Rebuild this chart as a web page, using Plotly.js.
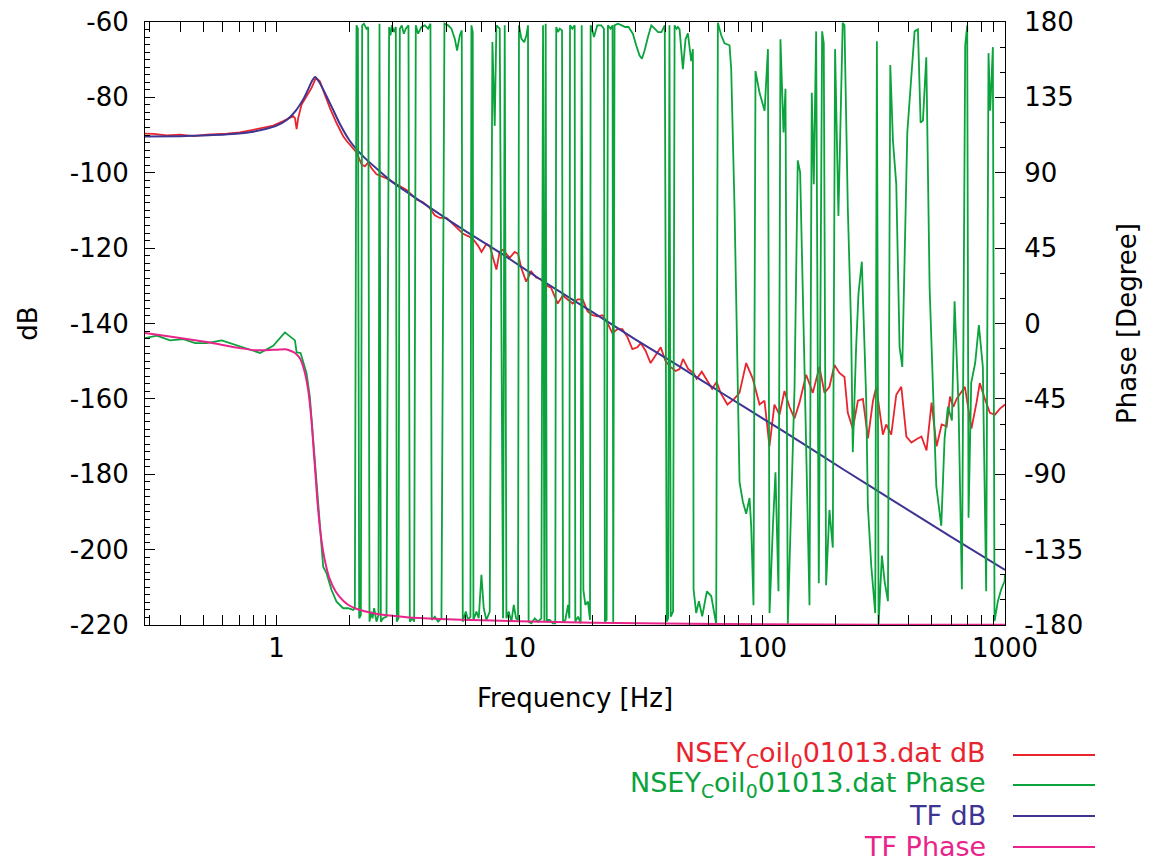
<!DOCTYPE html>
<html><head><meta charset="utf-8">
<script src="https://cdn.plot.ly/plotly-3.0.1.min.js"></script>
<style>html,body{margin:0;padding:0;background:#fff;} #chart{width:1149px;height:862px;}</style>
</head><body><div id="chart"></div>
<script>
// ---- measured magnitude (dB) ----
const redFreq = [0.287,0.311,0.353,0.400,0.454,0.515,0.623,0.706,0.801,0.881,0.968,1.065,1.170,1.190,1.209,1.227,1.267,1.328,1.393,1.451,1.507,1.580,1.657,1.765,1.880,
1.94,2.035,2.134,2.238,2.31,2.38,2.46,2.58,2.66,2.84,3.02,3.22,3.43,3.54,3.77,4.01,4.27,4.48,4.70,5.01,5.33,5.68,5.86,6.24,6.44,6.76,6.98,7.31,7.55,7.79,8.04,8.29,8.56,
8.70,9.12,9.56,9.87,10.17,10.66,11.18,11.72,12.29,12.88,13.5,14.38,15.08,15.8,16.57,17.37,18.21,19.09,20.0,20.98,22.0,23.06,24.17,25.34,26.56,27.85,29.19,30.6,31.6,33.1,34.7,36.4,38.2,40.0,41.9,44.0,
45.67,47.2,49.6,52.1,53.7,56.4,59.2,62.2,64.9,67.4,71.9,76.7,80.6,85.9,91.5,97.5,102.2,107.1,112.3,117.8,123.5,129.5,135.8,142.4,151.7,161.6,172.1,180.5,189.2,198.4,208.0,
218.2,225.2,236.2,247.8,259.9,272.6,286.0,295.1,314.1,324.1,340.0,356.6,374.1,392.4,411.6,431.8,452.9,475.1,498.4,522.8,548.4,575.3,593.6,612.5,632.0,683.7,727.5,763.2,787.4,826.0,866.5,909.0,953.5,1000];
const redDb = [-89.6,-89.7,-90.1,-89.9,-90.3,-89.9,-89.6,-89.3,-88.6,-88.1,-87.5,-86.3,-85.0,-85.5,-88.4,-85.5,-81.9,-79.7,-77.5,-74.8,-75.7,-79.3,-82.8,-86.8,-90.3,
-91.5,-93.0,-94.6,-97.8,-98.3,-97.3,-98.8,-100.4,-100.7,-101.5,-102.5,-103.6,-104.6,-105.4,-107.1,-107.8,-109.4,-111.3,-112.0,-112.0,-113.6,-115.2,-116.2,-117.0,-117.6,-119.4,-121.0,-118.9,-119.4,-122.6,-125.7,-121.0,-120.4,
-121.0,-122.6,-121.0,-121.5,-125.2,-128.9,-126.2,-127.8,-128.3,-129.9,-130.5,-134.7,-132.6,-133.6,-134.7,-133.6,-133.6,-136.8,-137.8,-138.1,-137.8,-139.9,-142.6,-141.5,-141.5,-143.6,-146.8,-146.3,-145.2,-147.3,-150.5,-148.4,-146.3,-150.0,-151.5,-152.6,
-152.1,-149.4,-152.1,-153.1,-154.7,-152.8,-155.2,-157.3,-155.5,-158.4,-161.5,-160.0,-158.4,-150.5,-154.7,-161.5,-160.5,-172.6,-161.5,-164.2,-157.9,-162.1,-165.2,-161.0,-153.6,-158.4,-151.5,-158.4,-156.8,-151.0,-153.1,
-154.2,-163.7,-167.9,-160.5,-160.0,-170.5,-160.5,-156.8,-169.5,-166.8,-169.5,-158.9,-156.8,-170.0,-171.6,-170.7,-170.0,-173.7,-161.0,-172.6,-166.8,-167.3,-159.4,-162.1,-160.0,-156.8,-167.9,-161.0,-155.8,-160.0,-163.7,-164.2,-162.6,-161.5];

// ---- measured phase (degree), in pieces ----
const gFreqA = [0.287,0.321,0.364,0.413,0.462,0.515,0.594,0.643,0.729,0.854,0.968,1.082,1.19,1.209,1.255,1.328,1.37,1.415,1.46,1.507,1.555,1.606,1.683,1.765,1.88,1.97];
const gPhA = [-8.7,-7.3,-10.1,-9.3,-11.7,-11.7,-10.1,-11.7,-14.7,-17.6,-13.3,-5.3,-10.1,-17.3,-17.6,-29.6,-43.6,-69.5,-97.4,-121.3,-145.2,-149.2,-159.1,-166.1,-170.0,-170.0];
const gFreqB = [2.067,2.100,2.133,2.161,2.188,2.223,2.251,2.287,2.345,2.383,2.413,2.452,2.483,2.522,2.578,2.628,2.653,2.687,2.747,2.835,
2.907,2.944,2.982,3.039,3.097,3.126,3.176,3.217,3.278,3.341,3.405,3.492,3.536,3.627,3.685,3.743,3.827,3.950,4.076,4.207,
4.301,4.356,4.482,4.625,4.774,4.912,5.085,5.248,5.417,5.538,5.680,5.788,5.843,6.012,6.146,6.284,6.343,6.424,6.465,6.651,
6.800,6.974,7.130,7.312,7.547,7.740,7.913,8.039,8.297,8.563];
const gPhB = [-171,-170,178,176,-176,-174,178,179,176,177,-178,-172,-176,-170,-178,-174,179,-178,-176,-175,
177,172,178,174,177,-178,-176,176,178,173,176,178,-178,-176,-178,178,173,177,178,176,
179,-177,-175,-178,-176,179,178,176,170,163,172,175,-178,-172,-177,-175,178,174,-177,-172,
-176,-150,-170,-177,-172,168,118,178,176,-176];
const gFreqC = [8.70,8.84,9.03,9.27,9.48,9.69,9.87,9.96,10.19,10.47,10.69,10.85,10.91,11.20,11.57,11.93,12.31,12.51,12.67,12.83,
12.96,13.32,13.74,14.05,14.18,14.42,14.65,14.98,15.12,15.46,15.86,16.06,16.16,16.52,16.89,16.99,17.44,17.88,18.05,18.34,
18.69,19.16,19.53,19.65,19.90,20.28,20.93,21.74,22.29,22.50,22.86,23.15,23.74,24.19,24.34,24.65,25.44,26.41,27.26,28.14,
29.33,30.28,31.26,31.96,32.78,33.84,34.94,36.07,37.24,38.45,39.69,40.45,40.97,41.49,42.01,42.94,43.57,44.39,44.96];
const gPhC = [178,-176,-172,-178,-168,-176,-177,178,170,168,172,178,-178,-179,-176,-178,-176,178,-178,179,
-177,-177,-179,-179,177,174,176,175,-178,-177,-168,-176,178,176,178,-178,-175,-179,178,-159,
-168,-166,-177,178,176,171,178,178,176,-178,-177,178,176,178,-179,178,179,178,177,177,
173,166,160,158,163,171,178,176,174,174,178,-178,-176,178,-175,-172,178,176,177];
const gFreqD = [45.67,47.13,48.34,49.42,51.01,51.82,52.15,53.48,54.85,56.61,59.17,61.66,64.64,65.67,67.78,69.96,73.35,74.52,76.92,79.40,
80.66,83.26,85.90,88.67,90.08,92.07,93.84,97.51,102.3,105.6,107.2,110.7,113.4,116.7,118.9,122.4,124.7,127.5,131.6,135.9,
140.1,143.3,149.3,156.6,160.0,163.1,166.8,171.0,176.5,179.3,183.3,189.2,195.3,199.6,206.0,214.6];
const gPhD = [175.6,151.9,169.7,173.2,156.6,163.8,-158.7,-172.9,-165.8,-174.8,-159.9,-162.7,-179.5,179.5,172.1,167.3,166.1,151.9,68.9,-49.6,
-94.7,-106.5,-113.6,-104.2,-120.8,-168.2,150.7,137.7,127.0,163.8,-172.9,-120.8,-88.8,-159.9,169.7,114.0,140.1,-179.5,-108.9,-37.8,
97.4,90.3,-25.9,-168.2,137.7,83.1,174.4,-155.1,174.4,167.3,-156.3,-111.3,-133.8,163.8,64.2,179.5];
const gFreqE = [218.2,225.2,232.4,236.1,243.7,249.2,257.2,268.1,272.4,281.2,292.1,296.7,301.5,311.2,319.2,329.5,336.9,345.5,356.6,368.0,
377.5,386.0,395.9,411.2,424.3,437.9,449.2,459.2,474.0,489.2,504.9,521.1,546.4,563.9,582.0,604.5,619.9,643.8,664.4,685.7,
698.8,707.7,725.8,753.7,780.4,810.5,836.5,855.3,869.0,891.3,905.5,934.7,964.9,995.9,1000];
const gPhE = [178.0,68.9,-2.2,-76.9,-14.1,17.9,36.9,-44.9,-108.9,-144.5,-172.9,168.5,-179.5,-138.5,-153.9,-165.8,154.3,109.2,83.1,-14.1,
-25.9,45.2,114.0,147.2,174.4,175.6,119.9,121.1,159.0,21.5,-37.8,-97.0,-120.8,-68.6,-49.6,-57.9,13.2,-49.6,-158.7,166.1,
178.0,-116.0,-35.4,-23.6,-1.0,-25.9,-159.9,161.4,127.0,165.0,-177.7,-165.8,-158.7,-153.9,-150];
const greenFreq = gFreqA.concat(gFreqB, gFreqC, gFreqD, gFreqE);
const greenPhase = gPhA.concat(gPhB, gPhC, gPhD, gPhE);

// ---- model transfer function ----
const tfDbFreq = [0.287,0.4,0.5,0.6,0.7,0.8,0.9,1.0,1.1,1.2,1.3,1.35,1.4,1.44,1.5,1.6,1.7,1.82,2.0,2.3,2.7,3.0,3.6,4.5,6.0,8.7,12,20,30,45.6,70,100,150,217,350,600,1000];
const tfDb = [-90.4,-90.3,-90.1,-89.9,-89.6,-89.1,-88.4,-87.5,-86.0,-83.5,-80.0,-77.8,-75.6,-74.6,-76.0,-79.5,-83.0,-87.0,-91.5,-96.0,-100.0,-102.5,-106.0,-110.2,-115.5,-122.0,-128.0,-137.0,-144.2,-151.4,-158.9,-165.1,-172.2,-178.8,-187.2,-196.6,-205.4];
const tfPhaseFreq = [0.287,0.375,0.515,0.706,0.827,0.968,1.1,1.19,1.25,1.30,1.35,1.39,1.42,1.445,1.47,1.50,1.55,1.60,1.65,1.75,1.88,2.0,2.13,2.5,3.43,4.7,7,10,20,50,100,300,1000];
const tfPhase = [-5.7,-8.1,-11.1,-14.7,-16.0,-15.7,-15.5,-17.6,-21,-28,-40,-57,-75,-90,-105,-119,-135,-145,-152,-160,-165.5,-168.5,-170.3,-173.0,-175.3,-176.4,-177.2,-177.8,-178.6,-179.3,-179.6,-179.8,-179.9];

// ---- ticks & labels ----
const xTickVals = [1,10,100,1000];
const xTickText = ['1','10','100','1000'];
const yTickVals = [-220,-200,-180,-160,-140,-120,-100,-80,-60];
const yTickText = ['-220','-200','-180','-160','-140','-120','-100','-80','-60'];
const y2TickVals = [-180,-135,-90,-45,0,45,90,135,180];
const y2TickText = ['-180','-135','-90','-45','0','45','90','135','180'];
const seriesNames = ['NSEY<sub>C</sub>oil<sub>0</sub>01013.dat dB','NSEY<sub>C</sub>oil<sub>0</sub>01013.dat Phase','TF dB','TF Phase'];
const seriesColors = ['#e8252f','#0aa33c','#3d3591','#e8238a'];

const xMinor = [];
for (const dec of [0.1,1,10,100]) for (let k=2;k<=9;k++){ const v=+(k*dec).toPrecision(3); if (v>=0.287 && v<=1000) xMinor.push(v); }

const FONT = 'DejaVu Sans, Liberation Sans, Arial, sans-serif';
const L=145, R=1005, T=22, B=625;
const pxX = px => (px-L)/(R-L);
const pxY = py => (B-py)/(B-T);

const traces = [
  {x:redFreq, y:redDb, yaxis:'y', type:'scatter', mode:'lines', name:seriesNames[0], line:{color:seriesColors[0], width:1.8}},
  {x:greenFreq, y:greenPhase, yaxis:'y2', type:'scatter', mode:'lines', name:seriesNames[1], line:{color:seriesColors[1], width:1.8}},
  {x:tfDbFreq, y:tfDb, yaxis:'y', type:'scatter', mode:'lines', name:seriesNames[2], line:{color:seriesColors[2], width:2, shape:'spline', smoothing:0.5}},
  {x:tfPhaseFreq, y:tfPhase, yaxis:'y2', type:'scatter', mode:'lines', name:seriesNames[3], line:{color:seriesColors[3], width:2, shape:'spline', smoothing:0.5}}
];

const tickFont = {family:FONT, size:26, color:'#000'};
const titleFont = {family:FONT, size:26, color:'#000'};
const rowsY = [755, 785, 816, 847];
const annotations = [], shapes = [];
seriesNames.forEach((t,i)=>{
  annotations.push({xref:'paper', yref:'paper', x:pxX(988), y:pxY(rowsY[i]-1), xanchor:'right', yanchor:'middle',
    text:t, showarrow:false, font:{family:FONT, size:27, color:seriesColors[i]}});
  shapes.push({type:'line', xref:'paper', yref:'paper', x0:pxX(1013), x1:pxX(1095), y0:pxY(rowsY[i]), y1:pxY(rowsY[i]),
    line:{color:seriesColors[i], width:1.8}});
});

const layout = {
  width:1149, height:862,
  margin:{l:L, r:1149-R, t:T, b:862-B, pad:0},
  paper_bgcolor:'#fff', plot_bgcolor:'#fff',
  showlegend:false,
  font:{family:FONT, size:26, color:'#000'},
  xaxis:{type:'log', range:[Math.log10(0.287), 3], tickmode:'array', tickvals:xTickVals, ticktext:xTickText,
    ticks:'inside', ticklen:10, tickwidth:1, tickcolor:'#000', showline:true, linecolor:'#000', linewidth:1,
    mirror:'allticks', showgrid:false, zeroline:false, tickfont:tickFont, ticklabelstandoff:0,
    minor:{tickmode:'array', tickvals:xMinor, ticks:'inside', ticklen:5, tickwidth:1, tickcolor:'#000', showgrid:false},
    title:{text:'Frequency [Hz]', font:titleFont, standoff:26}},
  yaxis:{range:[-220,-60], tickmode:'array', tickvals:yTickVals, ticktext:yTickText,
    ticks:'inside', ticklen:10, tickwidth:1, tickcolor:'#000', showline:true, linecolor:'#000', linewidth:1,
    mirror:false, showgrid:false, zeroline:false, tickfont:tickFont, ticklabelstandoff:10,
    minor:{tickmode:'linear', tick0:-220, dtick:2, ticks:'inside', ticklen:5, tickwidth:1, tickcolor:'#000', showgrid:false},
    title:{text:'dB', font:titleFont, standoff:24}},
  yaxis2:{overlaying:'y', side:'right', range:[-180,180], tickmode:'array', tickvals:y2TickVals, ticktext:y2TickText,
    ticks:'inside', ticklen:10, tickwidth:1, tickcolor:'#000', showline:true, linecolor:'#000', linewidth:1,
    showgrid:false, zeroline:false, tickfont:tickFont, ticklabelstandoff:13,
    minor:{tickmode:'linear', tick0:-180, dtick:15, ticks:'inside', ticklen:5, tickwidth:1, tickcolor:'#000', showgrid:false},
    title:{text:'Phase [Degree]', font:titleFont, standoff:35}},
  annotations:annotations,
  shapes:shapes
};

Plotly.newPlot('chart', traces, layout, {staticPlot:true, displayModeBar:false});
</script>
</body></html>
